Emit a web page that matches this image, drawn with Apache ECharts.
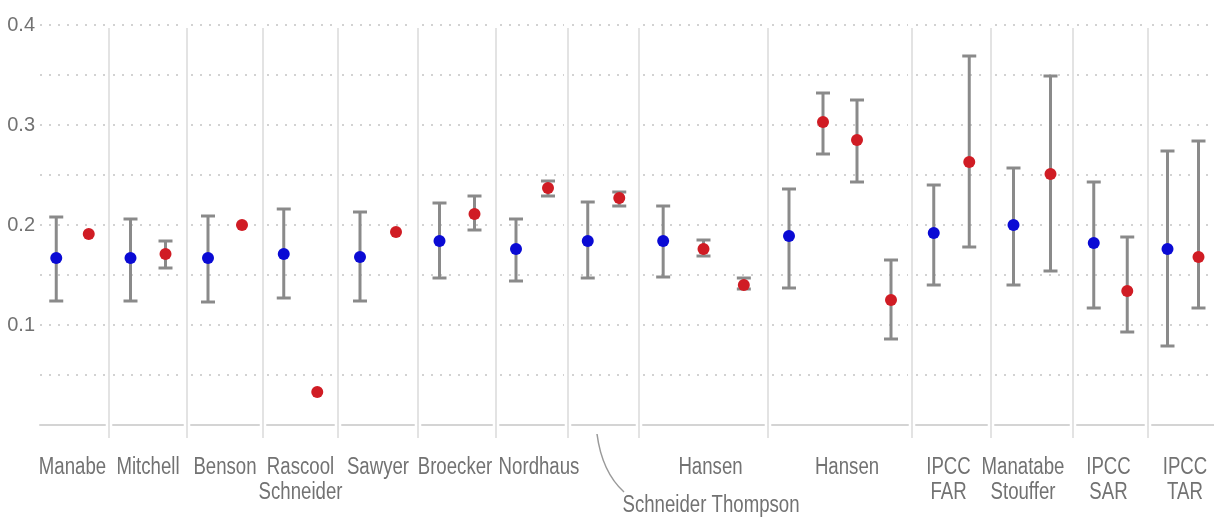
<!DOCTYPE html>
<html><head><meta charset="utf-8">
<script src="https://cdn.jsdelivr.net/npm/echarts@6/dist/echarts.min.js"></script>
<style>html,body{margin:0;padding:0;background:#fff}#c{width:1214px;height:518px}</style>
</head><body><div id="c"></div><script>
// ---- data ----
const panelNames = ['Manabe','Mitchell','Benson','Rascool\nSchneider','Sawyer','Broecker','Nordhaus','Schneider Thompson','Hansen','Hansen','IPCC\nFAR','Manatabe\nStouffer','IPCC\nSAR','IPCC\nTAR'];
const blueValue = [0.167,0.167,0.167,0.171,0.168,0.184,0.176,0.184,0.184,0.189,0.192,0.200,0.182,0.176];
const blueLow   = [0.124,0.124,0.123,0.127,0.124,0.147,0.144,0.147,0.148,0.137,0.140,0.140,0.117,0.079];
const blueHigh  = [0.208,0.206,0.209,0.216,0.213,0.222,0.206,0.223,0.219,0.236,0.240,0.257,0.243,0.274];
const redValue = [[0.191],[0.171],[0.200],[0.033],[0.193],[0.211],[0.237],[0.227],[0.176,0.140],[0.303,0.285,0.125],[0.263],[0.251],[0.134],[0.168]];
const redLow   = [[null],[0.157],[null],[null],[null],[0.195],[0.229],[0.219],[0.169,0.136],[0.271,0.243,0.086],[0.178],[0.154],[0.093],[0.117]];
const redHigh  = [[null],[0.184],[null],[null],[null],[0.229],[0.244],[0.233],[0.185,0.147],[0.332,0.325,0.165],[0.369],[0.349],[0.188],[0.284]];
const yTickLabels = [0.1,0.2,0.3,0.4];

// ---- layout ----
const panelEdges = [40,109,187,263,338,418,496,568,639,768,912,991,1073,1148,1226];
const labelShift = [0,0,0,0,0,-2,7,0,7,7,-3,-9,-2,-2];
const FONT = '"Liberation Sans",Arial,sans-serif';
const TXT = '#727272';
const BLUE = '#0a0ad4', RED = '#d01c24', BAR = '#8a8a8a';
const calloutIdx = 7;
const NARROW = 0.81;

const grids = [], xAxes = [], yAxes = [], series = [], graphics = [];
panelNames.forEach((name, i) => {
  const left = panelEdges[i] + (i === 0 ? 0 : 4);
  const right = panelEdges[i + 1] - 4;
  grids.push({left: left, width: right - left, top: 25, height: 400});
  const nSlots = 1 + redValue[i].length;
  xAxes.push({
    type: 'category', gridIndex: i,
    data: Array.from({length: nSlots}, (_, k) => k === 0 ? 'estimate' : 'obs' + k),
    axisLine: {show: true, lineStyle: {color: '#d4d4d4', width: 2}},
    axisTick: {show: false}, axisLabel: {show: false}, splitLine: {show: false}
  });
  yAxes.push({
    type: 'value', gridIndex: i, min: 0, max: 0.4, interval: 0.05,
    axisLine: {show: false}, axisTick: {show: false},
    axisLabel: {show: i === 0, fontFamily: FONT, fontSize: 20, color: TXT, margin: 5,
      formatter: v => yTickLabels.some(t => Math.abs(t - v) < 1e-9) ? v.toFixed(1) : ''},
    splitLine: {show: true, lineStyle: {color: '#c4c4c4', width: 1.5, type: [2, 7]}}
  });
  const bars = [[0, blueLow[i], blueHigh[i]]];
  redValue[i].forEach((v, k) => {
    if (redLow[i][k] != null) bars.push([k + 1, redLow[i][k], redHigh[i][k]]);
  });
  series.push({
    type: 'custom', xAxisIndex: i, yAxisIndex: i, z: 2, silent: true,
    encode: {x: 0, y: [1, 2]},
    data: bars,
    renderItem: (params, api) => {
      const x = api.value(0);
      const p1 = api.coord([x, api.value(2)]);
      const p2 = api.coord([x, api.value(1)]);
      const hw = 7, st = {stroke: BAR, lineWidth: 3};
      return {type: 'group', children: [
        {type: 'line', shape: {x1: p1[0], y1: p1[1], x2: p2[0], y2: p2[1]}, style: st},
        {type: 'line', shape: {x1: p1[0] - hw, y1: p1[1], x2: p1[0] + hw, y2: p1[1]}, style: st},
        {type: 'line', shape: {x1: p2[0] - hw, y1: p2[1], x2: p2[0] + hw, y2: p2[1]}, style: st}
      ]};
    }
  });
  series.push({type: 'scatter', xAxisIndex: i, yAxisIndex: i, z: 3, symbolSize: 12,
    itemStyle: {color: BLUE, opacity: 1}, data: [[0, blueValue[i]]]});
  series.push({type: 'scatter', xAxisIndex: i, yAxisIndex: i, z: 3, symbolSize: 12,
    itemStyle: {color: RED, opacity: 1}, data: redValue[i].map((v, k) => [k + 1, v])});
  if (i > 0) {
    graphics.push({type: 'line', silent: true, z: 0,
      shape: {x1: panelEdges[i], y1: 28, x2: panelEdges[i], y2: 438},
      style: {stroke: '#dadada', lineWidth: 1.5}});
  }
  if (i !== calloutIdx) {
    const cx = (left + right) / 2 + labelShift[i];
    graphics.push({type: 'text', x: cx, y: 455, scaleX: NARROW, silent: true,
      style: {text: name, fontFamily: FONT, fontSize: 23, lineHeight: 25, fill: TXT, align: 'center', verticalAlign: 'top'}});
  }
});
// callout label for the crowded panel
graphics.push({type: 'text', x: 711, y: 506, scaleX: NARROW, silent: true,
  style: {text: panelNames[calloutIdx], fontFamily: FONT, fontSize: 23, fill: TXT, align: 'center', verticalAlign: 'middle'}});
graphics.push({type: 'bezierCurve', silent: true,
  shape: {x1: 597, y1: 434, cpx1: 602, cpy1: 472, x2: 624, y2: 492},
  style: {stroke: '#9a9a9a', lineWidth: 1.5, fill: null}});

const chart = echarts.init(document.getElementById('c'), null, {renderer: 'canvas'});
chart.setOption({
  animation: false, backgroundColor: '#fff',
  grid: grids, xAxis: xAxes, yAxis: yAxes, series: series, graphic: graphics
});
</script></body></html>
